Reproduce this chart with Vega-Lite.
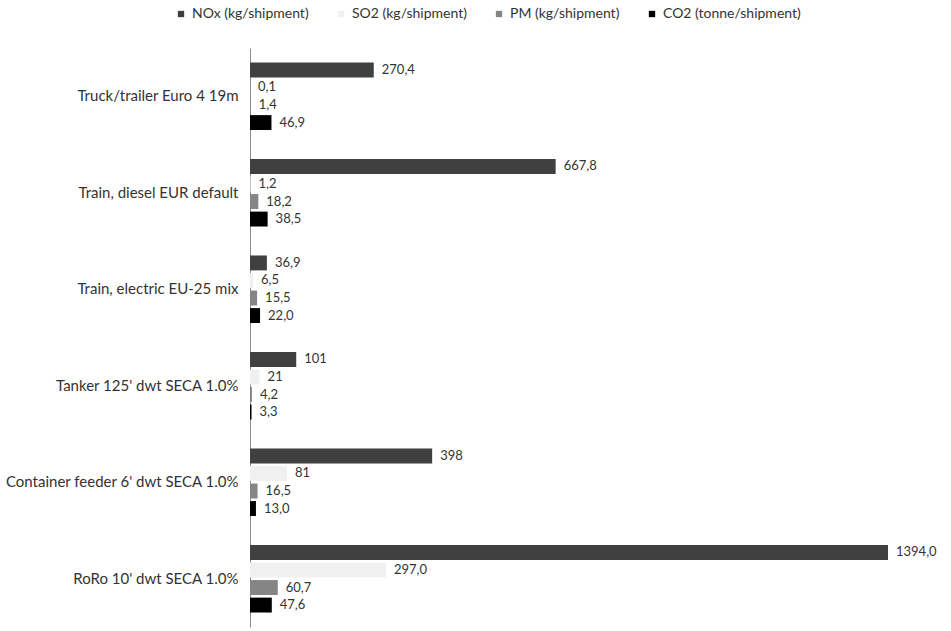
{
  "$schema": "https://vega.github.io/schema/vega-lite/v6.json",
  "width": 638,
  "height": 579,
  "autosize": {"type": "none"},
  "padding": {"left": 250, "top": 48, "right": 63, "bottom": 4},
  "background": "white",
  "config": {"view": {"stroke": null}, "font": "Lato"},
  "data": {
    "values": [
      {"mode": "Truck/trailer Euro 4 19m", "series": "NOx (kg/shipment)", "value": 270.4, "label": "270,4"},
      {"mode": "Truck/trailer Euro 4 19m", "series": "SO2 (kg/shipment)", "value": 0.1, "label": "0,1"},
      {"mode": "Truck/trailer Euro 4 19m", "series": "PM (kg/shipment)", "value": 1.4, "label": "1,4"},
      {"mode": "Truck/trailer Euro 4 19m", "series": "CO2 (tonne/shipment)", "value": 46.9, "label": "46,9"},
      {"mode": "Train, diesel EUR default", "series": "NOx (kg/shipment)", "value": 667.8, "label": "667,8"},
      {"mode": "Train, diesel EUR default", "series": "SO2 (kg/shipment)", "value": 1.2, "label": "1,2"},
      {"mode": "Train, diesel EUR default", "series": "PM (kg/shipment)", "value": 18.2, "label": "18,2"},
      {"mode": "Train, diesel EUR default", "series": "CO2 (tonne/shipment)", "value": 38.5, "label": "38,5"},
      {"mode": "Train, electric EU-25 mix", "series": "NOx (kg/shipment)", "value": 36.9, "label": "36,9"},
      {"mode": "Train, electric EU-25 mix", "series": "SO2 (kg/shipment)", "value": 6.5, "label": "6,5"},
      {"mode": "Train, electric EU-25 mix", "series": "PM (kg/shipment)", "value": 15.5, "label": "15,5"},
      {"mode": "Train, electric EU-25 mix", "series": "CO2 (tonne/shipment)", "value": 22.0, "label": "22,0"},
      {"mode": "Tanker 125' dwt SECA  1.0%", "series": "NOx (kg/shipment)", "value": 101, "label": "101"},
      {"mode": "Tanker 125' dwt SECA  1.0%", "series": "SO2 (kg/shipment)", "value": 21, "label": "21"},
      {"mode": "Tanker 125' dwt SECA  1.0%", "series": "PM (kg/shipment)", "value": 4.2, "label": "4,2"},
      {"mode": "Tanker 125' dwt SECA  1.0%", "series": "CO2 (tonne/shipment)", "value": 3.3, "label": "3,3"},
      {"mode": "Container feeder 6' dwt SECA 1.0%", "series": "NOx (kg/shipment)", "value": 398, "label": "398"},
      {"mode": "Container feeder 6' dwt SECA 1.0%", "series": "SO2 (kg/shipment)", "value": 81, "label": "81"},
      {"mode": "Container feeder 6' dwt SECA 1.0%", "series": "PM (kg/shipment)", "value": 16.5, "label": "16,5"},
      {"mode": "Container feeder 6' dwt SECA 1.0%", "series": "CO2 (tonne/shipment)", "value": 13.0, "label": "13,0"},
      {"mode": "RoRo 10' dwt SECA  1.0%", "series": "NOx (kg/shipment)", "value": 1394.0, "label": "1394,0"},
      {"mode": "RoRo 10' dwt SECA  1.0%", "series": "SO2 (kg/shipment)", "value": 297.0, "label": "297,0"},
      {"mode": "RoRo 10' dwt SECA  1.0%", "series": "PM (kg/shipment)", "value": 60.7, "label": "60,7"},
      {"mode": "RoRo 10' dwt SECA  1.0%", "series": "CO2 (tonne/shipment)", "value": 47.6, "label": "47,6"}
    ]
  },
  "encoding": {
    "y": {
      "field": "mode",
      "type": "nominal",
      "sort": null,
      "scale": {"paddingInner": 0.3, "paddingOuter": 0.15},
      "axis": {
        "title": null,
        "ticks": false,
        "domain": true,
        "domainColor": "#8c8c8c",
        "labelFontSize": 15,
        "labelColor": "#333333",
        "labelPadding": 12,
        "labelLimit": 300
      }
    },
    "yOffset": {
      "field": "series",
      "type": "nominal",
      "sort": ["NOx (kg/shipment)", "SO2 (kg/shipment)", "PM (kg/shipment)", "CO2 (tonne/shipment)"],
      "scale": {"paddingInner": 0.15}
    },
    "x": {
      "field": "value",
      "type": "quantitative",
      "scale": {"domain": [0, 1394], "nice": false},
      "axis": null
    }
  },
  "layer": [
    {
      "mark": {"type": "bar"},
      "encoding": {
        "color": {
          "field": "series",
          "type": "nominal",
          "sort": ["NOx (kg/shipment)", "SO2 (kg/shipment)", "PM (kg/shipment)", "CO2 (tonne/shipment)"],
          "scale": {
            "domain": ["NOx (kg/shipment)", "SO2 (kg/shipment)", "PM (kg/shipment)", "CO2 (tonne/shipment)"],
            "range": ["#404040", "#f0f0f0", "#858585", "#000000"]
          },
          "legend": {
            "title": null,
            "orient": "none",
            "direction": "horizontal",
            "legendX": -76,
            "legendY": -41,
            "symbolType": "square",
            "symbolSize": 40,
            "labelFontSize": 14,
            "labelColor": "#333333",
            "labelOffset": 4,
            "columnPadding": 25
          }
        }
      }
    },
    {
      "mark": {"type": "text", "align": "left", "baseline": "middle", "dx": 8, "fontSize": 13, "color": "#333333"},
      "encoding": {"text": {"field": "label", "type": "nominal"}}
    }
  ]
}
